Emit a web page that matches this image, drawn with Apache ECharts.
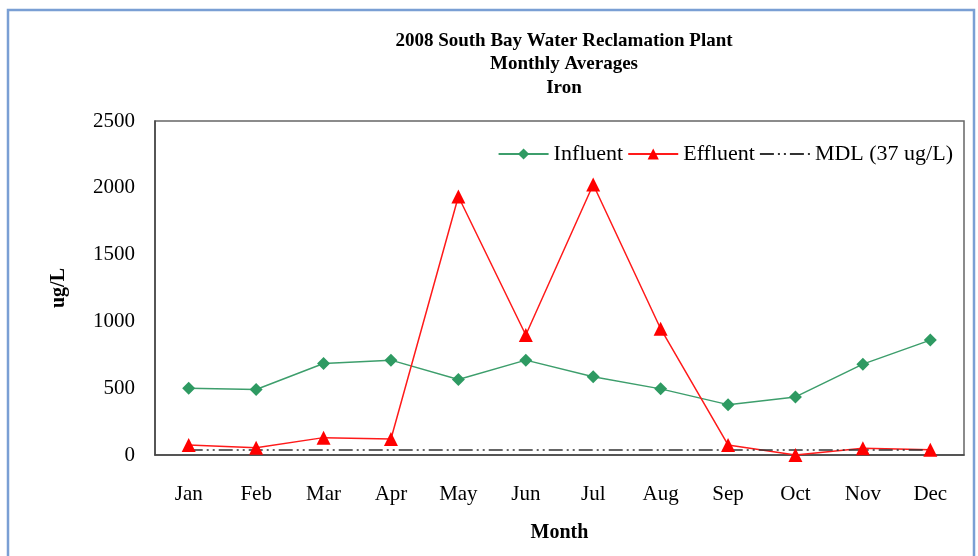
<!DOCTYPE html>
<html lang="en">
<head>
  <meta charset="UTF-8">
  <title>South Bay Iron</title>
  <script src="https://cdn.jsdelivr.net/npm/echarts@6/dist/echarts.min.js"></script>
  <style>
    body { margin: 0; padding: 0; background: #fff; }
    #main { width: 978px; height: 556px; }
  </style>
</head>
<body>
  <div id="main"></div>
  <script>
    // data
    var months = ['Jan', 'Feb', 'Mar', 'Apr', 'May', 'Jun', 'Jul', 'Aug', 'Sep', 'Oct', 'Nov', 'Dec'];
    var influent = [500, 490, 685, 710, 565, 710, 585, 495, 377, 435, 680, 860];
    var effluent = [75, 55, 130, 120, 1935, 898, 2025, 945, 75, 0, 50, 40];
    var mdl = [37, 37, 37, 37, 37, 37, 37, 37, 37, 37, 37, 37];

    var serif = 'Liberation Serif';

    var chart = echarts.init(document.getElementById('main'));
    chart.setOption({
      animation: false,
      title: {
        text: '2008 South Bay Water Reclamation Plant\nMonthly Averages\nIron',
        left: 559,
        top: 24,
        textAlign: 'center',
        textStyle: { fontFamily: serif, fontSize: 19, fontWeight: 'bold', color: '#000', lineHeight: 23.5 }
      },
      graphic: [{
        type: 'rect',
        shape: { x: 8, y: 10, width: 966, height: 560 },
        style: { fill: 'none', stroke: '#7a9fd4', lineWidth: 2.5 },
        silent: true
      }],
      legend: {
        right: 20,
        top: 138,
        itemWidth: 50,
        itemHeight: 14,
        itemGap: 4,
        textStyle: { fontFamily: serif, fontSize: 22, color: '#000' },
        data: [
          'Influent',
          'Effluent',
          { name: 'MDL (37 ug/L)', itemStyle: { opacity: 0 } }
        ]
      },
      grid: { left: 155, right: 14, top: 121, bottom: 101, show: true, borderColor: '#666', borderWidth: 1.5 },
      xAxis: {
        type: 'category',
        data: months,
        name: 'Month',
        nameLocation: 'middle',
        nameGap: 68,
        nameTextStyle: { fontFamily: serif, fontSize: 20, fontWeight: 'bold', color: '#000' },
        axisLine: { lineStyle: { color: '#444', width: 1.5 } },
        axisTick: { inside: true, alignWithLabel: true, length: 5, lineStyle: { color: '#444' } },
        axisLabel: { fontFamily: serif, fontSize: 21, color: '#000', margin: 29 }
      },
      yAxis: {
        type: 'value',
        min: 0,
        max: 2500,
        interval: 500,
        name: 'ug/L',
        nameLocation: 'middle',
        nameGap: 86,
        nameTextStyle: { fontFamily: serif, fontSize: 20, fontWeight: 'bold', color: '#000' },
        axisLine: { show: true, lineStyle: { color: '#444', width: 1.5 } },
        axisTick: { show: false },
        splitLine: { show: false },
        axisLabel: {
          fontFamily: serif, fontSize: 21, color: '#000', margin: 20,
          formatter: function (v) { return String(v); }
        }
      },
      series: [
        {
          name: 'Influent',
          type: 'line',
          data: influent,
          symbol: 'diamond',
          symbolSize: 13,
          itemStyle: { color: '#2e9a62' },
          lineStyle: { color: '#3d9e6c', width: 1.5 }
        },
        {
          name: 'Effluent',
          type: 'line',
          data: effluent,
          symbol: 'triangle',
          symbolSize: 14,
          itemStyle: { color: '#ff0000' },
          lineStyle: { color: '#ff1a1a', width: 1.5 }
        },
        {
          name: 'MDL (37 ug/L)',
          type: 'line',
          data: mdl,
          symbol: 'none',
          itemStyle: { color: '#333' },
          lineStyle: { color: '#333', width: 1.5, type: [14, 4, 2, 4, 2, 4] }
        }
      ]
    });
  </script>
</body>
</html>
